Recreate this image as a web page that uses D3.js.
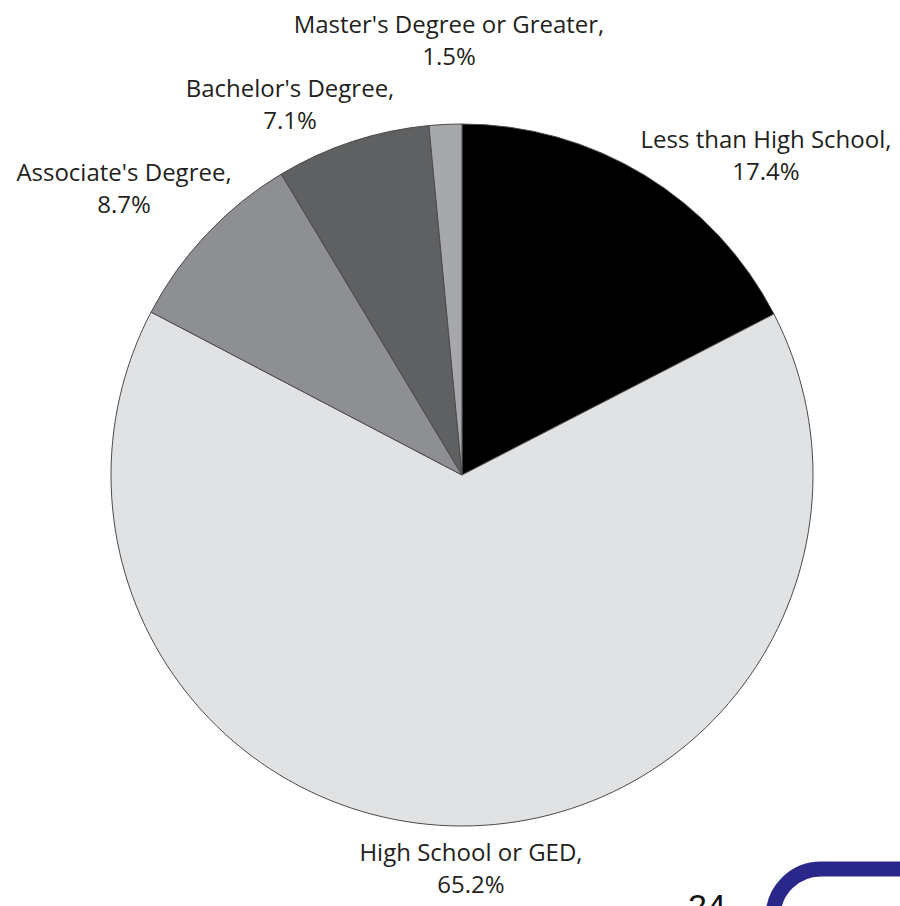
<!DOCTYPE html>
<html>
<head>
<meta charset="utf-8">
<script src="https://cdn.jsdelivr.net/npm/d3@7"></script>
<style>
  body { margin: 0; background: #fff; }
  svg { display: block; }
</style>
</head>
<body>
<script>
// Data
const categories = ["Less than High School", "High School or GED", "Associate's Degree", "Bachelor's Degree", "Master's Degree or Greater"];
const values = [17.4, 65.2, 8.7, 7.1, 1.5];
const colors = ["#000000", "#e1e2e4", "#8e8f92", "#5f6062", "#a6a8ab"];

// label anchor points (centre x, first baseline y)
const labelPos = [[766, 148], [471, 861], [124, 181], [290, 97], [449, 33]];

const width = 900;
const height = 906;
const cx = 462;
const cy = 475;
const radius = 351;

const svg = d3.select("body")
  .append("svg")
  .attr("width", width)
  .attr("height", height);

const pie = d3.pie().sort(null).value((d) => d);
const arc = d3.arc().innerRadius(0).outerRadius(radius);

const arcs = pie(values);

svg.append("g")
  .attr("transform", `translate(${cx},${cy})`)
  .selectAll("path")
  .data(arcs)
  .join("path")
  .attr("d", arc)
  .attr("fill", (d, i) => colors[i])
  .attr("stroke", "#4a4a4a")
  .attr("stroke-width", 1);

// labels
const labels = svg.append("g")
  .attr("font-family", "'Open Sans', sans-serif")
  .attr("font-size", 24)
  .attr("fill", "#231f20")
  .attr("text-anchor", "middle")
  .selectAll("text")
  .data(categories)
  .join("text")
  .attr("x", (d, i) => labelPos[i][0])
  .attr("y", (d, i) => labelPos[i][1]);

labels.append("tspan")
  .attr("x", (d, i) => labelPos[i][0])
  .text((d) => d + ",");

labels.append("tspan")
  .attr("x", (d, i) => labelPos[i][0])
  .attr("dy", 32)
  .text((d, i) => values[i].toFixed(1) + "%");

// page number and logo corner, cut off at the bottom edge
svg.append("text")
  .attr("x", 688)
  .attr("y", 918)
  .attr("font-family", "'Liberation Sans', Arial, sans-serif")
  .attr("font-size", 34)
  .attr("fill", "#111")
  .text("24");

svg.append("rect")
  .attr("x", 773)
  .attr("y", 869)
  .attr("width", 200)
  .attr("height", 120)
  .attr("rx", 48)
  .attr("fill", "#fff")
  .attr("stroke", "#29288a")
  .attr("stroke-width", 15);
</script>
</body>
</html>
